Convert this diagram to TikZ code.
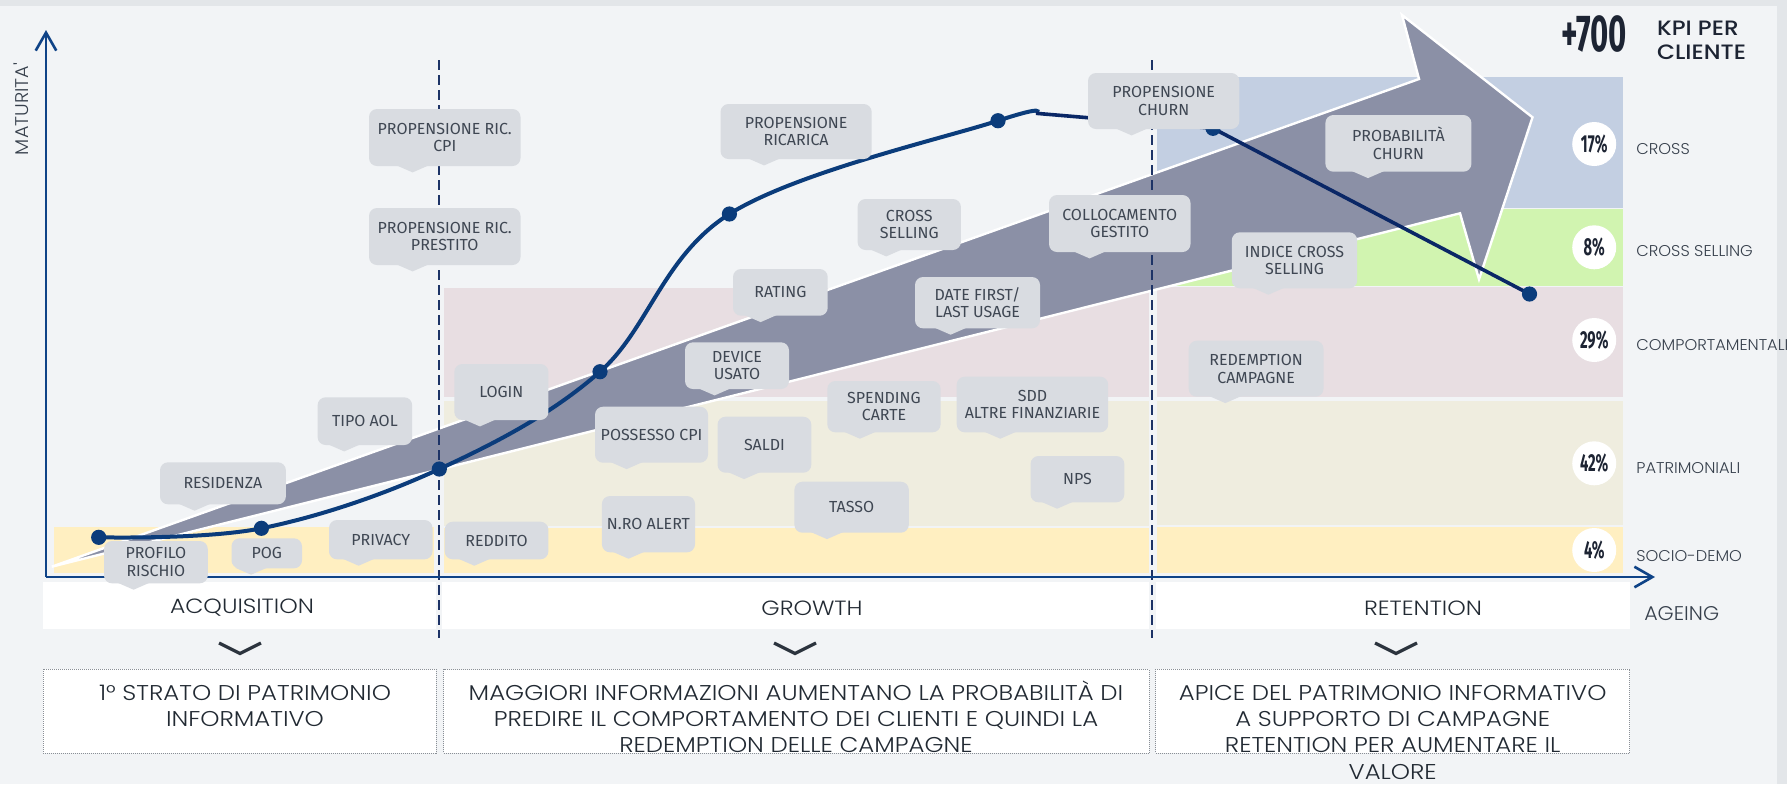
\documentclass[tikz,border=0pt]{standalone}
\usepackage{fontspec}
\setmainfont{Fira Sans}
\newfontfamily\numfont{Fira Sans}[FakeStretch=0.6]
\newfontfamily\litefont{Poppins Light}[FakeStretch=1.04]
\newfontfamily\widefont{Poppins Light}[FakeStretch=1.14]
\newfontfamily\medfont{Poppins Medium}[FakeStretch=1.12]
\usetikzlibrary{arrows.meta,positioning,calc}

\definecolor{bgcol}{HTML}{F2F4F6}
\definecolor{edgecol}{HTML}{E3E6E9}
\definecolor{yellowband}{HTML}{FFEFC1}
\definecolor{beigeband}{HTML}{EFEDDF}
\definecolor{pinkband}{HTML}{E8DEE2}
\definecolor{greenband}{HTML}{D1F4B0}
\definecolor{blueband}{HTML}{C3CFE2}
\definecolor{arrowcol}{HTML}{8B90A6}
\definecolor{boxgray}{HTML}{D9DCE1}
\definecolor{boxtext}{HTML}{3F4753}
\definecolor{axiscol}{HTML}{0F4387}
\definecolor{curvecol}{HTML}{0B3C7B}
\definecolor{churncol}{HTML}{0A2766}
\definecolor{dashcol}{HTML}{1D3366}
\definecolor{chevcol}{HTML}{2C343E}
\definecolor{labelcol}{HTML}{37404C}
\definecolor{notegray}{HTML}{8A8F96}
\definecolor{notetextcol}{HTML}{222A33}
\definecolor{pcttext}{HTML}{1D2433}

\tikzset{
  kpi/.style={fill=boxgray, rounded corners=4pt, inner sep=0pt, text=boxtext, align=center, font=\fontsize{8}{8.8}\selectfont},
  curve/.style={draw=curvecol, line width=2pt},
  churn/.style={draw=churncol, line width=1.8pt},
  axis/.style={draw=axiscol, line width=1.3pt, -{Straight Barb[length=9pt,width=10.3pt]}},
  phase/.style={draw=dashcol, line width=0.9pt, dash pattern=on 5pt off 2.5pt},
  note/.style={draw=notegray, fill=white, line width=0.5pt, dash pattern=on 0.5pt off 0.5pt},
  notetext/.style={text=notetextcol, align=center, inner sep=0pt, anchor=base, font=\widefont\fontsize{10.7}{13.2}\selectfont},
  pct/.style={circle, fill=white, minimum size=22pt, inner sep=0pt, text=pcttext, font=\numfont\bfseries\fontsize{12.3}{12.3}\selectfont},
  layer/.style={anchor=west, inner sep=0pt, text=labelcol, font=\litefont\fontsize{7.8}{9}\selectfont},
  stage/.style={text=notetextcol, font=\widefont\fontsize{10.3}{11}\selectfont},
  chevron/.style={draw=chevcol, line width=1.6pt},
}

% box with pointer: name, x1, y1, x2, y2, tip offset, text
\newcommand{\kpibox}[7]{%
  \node[kpi, minimum width={(#4-#2)*0.5pt}, minimum height={(#5-#3)*0.5pt}] (#1) at ({(#2+#4)/2},{(#3+#5)/2}) {#7};
  \fill[boxgray] ($(#1.south west)+(#6-16,-1)$) -- ++(16,7) -- ++(16,-7) -- cycle;}

\begin{document}
\begin{tikzpicture}[x=0.5pt, y=-0.5pt]
  \useasboundingbox (0,0) rectangle (1787,784);
  \fill[bgcol] (0,0) rectangle (1787,784);
  \fill[edgecol] (0,0) rectangle (1787,5.7);
  \fill[edgecol] (1776.6,0) rectangle (1787,784);

  % layers
  \fill[yellowband] (53.6,527) rectangle (434.4,573.3);
  \fill[pinkband] (444,288) rectangle (1149.3,397.3);
  \fill[beigeband] (444,401) rectangle (1149.3,526);
  \fill[yellowband] (444,528) rectangle (1149.3,573.3);
  \fill[blueband] (1157,77.3) rectangle (1623,208.3);
  \fill[greenband] (1157,209.3) rectangle (1623,285.7);
  \fill[pinkband] (1157,287.3) rectangle (1623,396.7);
  \fill[beigeband] (1157,401) rectangle (1623,525);
  \fill[yellowband] (1157,527.3) rectangle (1623,573.3);

  % big arrow
  \draw[white, line width=1.2pt, fill=arrowcol] (51.7,566.7) -- (1419,79) -- (1402,15) -- (1532.5,117.3) -- (1479,279.3) -- (1460,213.3) -- cycle;

  % phase strip
  \fill[white] (43,581.7) rectangle (436,629);
  \fill[white] (442,581.7) rectangle (1149,629);
  \fill[white] (1155.7,581.7) rectangle (1629.7,629);
  \node[stage] (acq) at (242,608) {ACQUISITION};
  \node[stage] (growth) at (812,608) {GROWTH};
  \node[stage] (retention) at (1423,608) {RETENTION};

  \draw[phase] (439.3,60) -- (439.3,638);
  \draw[phase] (1151.8,60) -- (1151.8,638);

  % axes
  \coordinate (o) at (46,577);
  \coordinate (ytop) at (46,30);
  \coordinate (xend) at (1655,577);
  \draw[axis] (o) -- (ytop);
  \draw[axis] (o) -- (xend);
  \node[rotate=90, text=labelcol, font=\litefont\fontsize{9.2}{10}\selectfont] (ylab) at (21,109) {MATURITA'};
  \node[text=labelcol, font=\litefont\fontsize{9.9}{10}\selectfont] (xlab) at (1681.7,614) {AGEING};

  % maturity curve
  \coordinate (m0) at (98.7,537.3);
  \coordinate (m1) at (261.4,528.3);
  \coordinate (m2) at (439.3,469);
  \coordinate (m3) at (600,371.7);
  \coordinate (m4) at (729.4,214);
  \coordinate (m5) at (998,120.7);
  \coordinate (m6) at (1036,113.3);
  \coordinate (c0) at (1213,128.3);
  \coordinate (c1) at (1529.5,294);
  \draw[curve] plot[smooth, tension=0.6] coordinates {(m0) (m1) (m2) (m3) (m4) (m5) (m6)};
  \draw[churn] (m6) -- (c0) -- (c1);
  \foreach \d in {m0,m1,m2,m3,m4,m5}
    \fill[curvecol] (\d) circle[radius=3.8pt];
  \foreach \d in {c0,c1}
    \fill[curvecol] (\d) circle[radius=3.8pt];

  % KPI boxes
  \kpibox{cpi}{369}{109}{520.5}{166}{44}{PROPENSIONE RIC.\\CPI}
  \kpibox{prestito}{369}{208}{520.5}{265}{44}{PROPENSIONE RIC.\\PRESTITO}
  \kpibox{ricarica}{720.5}{104}{871.7}{159}{44}{PROPENSIONE\\RICARICA}
  \kpibox{propchurn}{1088}{73}{1239.3}{129}{44}{PROPENSIONE\\CHURN}
  \kpibox{crosssell}{857.6}{199}{960.9}{250}{29}{CROSS\\SELLING}
  \kpibox{gestito}{1049}{195}{1190.5}{252}{41}{COLLOCAMENTO\\GESTITO}
  \kpibox{rating}{733}{269}{827.7}{315.7}{28}{RATING}
  \kpibox{usage}{915}{277}{1040}{328.3}{36}{DATE FIRST/\\LAST USAGE}
  \kpibox{device}{685}{342.3}{789}{389}{30}{DEVICE\\USATO}
  \kpibox{cpiown}{595}{406.7}{708}{462.7}{32}{POSSESSO CPI}
  \kpibox{saldi}{717.5}{416.7}{811.3}{472.7}{27}{SALDI}
  \kpibox{spending}{827.3}{381}{940.6}{432.3}{33}{SPENDING\\CARTE}
  \kpibox{sdd}{956.7}{376.7}{1108.2}{432.3}{44}{SDD\\ALTRE FINANZIARIE}
  \kpibox{nps}{1030.5}{456}{1124.3}{502.3}{27}{NPS}
  \kpibox{alert}{601.9}{496}{695}{552.3}{27}{N.RO ALERT}
  \kpibox{tasso}{794.4}{481.7}{908.8}{532.7}{33}{TASSO}
  \kpibox{probchurn}{1325.4}{115}{1471.4}{171.7}{43}{PROBABILITÀ\\CHURN}
  \kpibox{indice}{1231.8}{232.3}{1357.2}{288.3}{37}{INDICE CROSS\\SELLING}
  \kpibox{redemption}{1188.7}{340.7}{1323.5}{396.7}{37}{REDEMPTION\\CAMPAGNE}
  \kpibox{tipoaol}{317.6}{397.3}{412.2}{445}{27}{TIPO AOL}
  \kpibox{residenza}{160}{462.3}{285.9}{504.3}{35}{RESIDENZA}
  \kpibox{login}{454.3}{364}{548.4}{420}{26}{LOGIN}
  \kpibox{profilo}{104}{541}{207.8}{583.3}{30}{PROFILO\\RISCHIO}
  \kpibox{pog}{231.5}{538.3}{302}{568.3}{20}{POG}
  \kpibox{privacy}{329}{520}{432.5}{559.3}{30}{PRIVACY}
  \kpibox{reddito}{444.7}{521.7}{548.4}{559.3}{30}{REDDITO}

  % KPI count and shares
  \node[text=pcttext, font=\numfont\bfseries\fontsize{26}{26}\selectfont] (total) at (1594.2,33.9) {+700};
  \node[anchor=west, align=left, inner sep=0pt, text=pcttext, font=\medfont\fontsize{10.4}{12}\selectfont] (kpihead) at (1656.7,40.8) {KPI PER\\CLIENTE};
  \node[pct] (p17) at (1594.2,144) {17\%};
  \node[pct] (p8) at (1594.2,247.3) {8\%};
  \node[pct] (p29) at (1594.2,340) {29\%};
  \node[pct] (p42) at (1594.2,463.3) {42\%};
  \node[pct] (p4) at (1594.2,550) {4\%};
  \node[layer] (lcross) at (1636,149) {CROSS};
  \node[layer] (lcsell) at (1636,250.7) {CROSS SELLING};
  \node[layer] (lcomp) at (1636,345) {COMPORTAMENTALI};
  \node[layer] (lpatr) at (1636,468.3) {PATRIMONIALI};
  \node[layer] (lsocio) at (1636,556) {SOCIO-DEMO};

  % phase notes
  \foreach \cx in {240,795,1396}
    \draw[chevron] (\cx-21,643) -- (\cx,653.5) -- (\cx+21,643);
  \draw[note] (43,669.3) rectangle (436,753.3);
  \draw[note] (443.7,669.3) rectangle (1149,753.3);
  \draw[note] (1155.7,669.3) rectangle (1629.7,753.3);
  \node[notetext] (noteacq) at (245,726.4) {1° STRATO DI PATRIMONIO\\INFORMATIVO};
  \node[notetext] (notegrowth) at (796,752.8) {MAGGIORI INFORMAZIONI AUMENTANO LA PROBABILITÀ DI\\PREDIRE IL COMPORTAMENTO DEI CLIENTI E QUINDI LA\\REDEMPTION DELLE CAMPAGNE};
  \node[notetext] (noteret) at (1392.7,779.2) {APICE DEL PATRIMONIO INFORMATIVO\\A SUPPORTO DI CAMPAGNE\\RETENTION PER AUMENTARE IL\\VALORE};
\end{tikzpicture}
\end{document}
